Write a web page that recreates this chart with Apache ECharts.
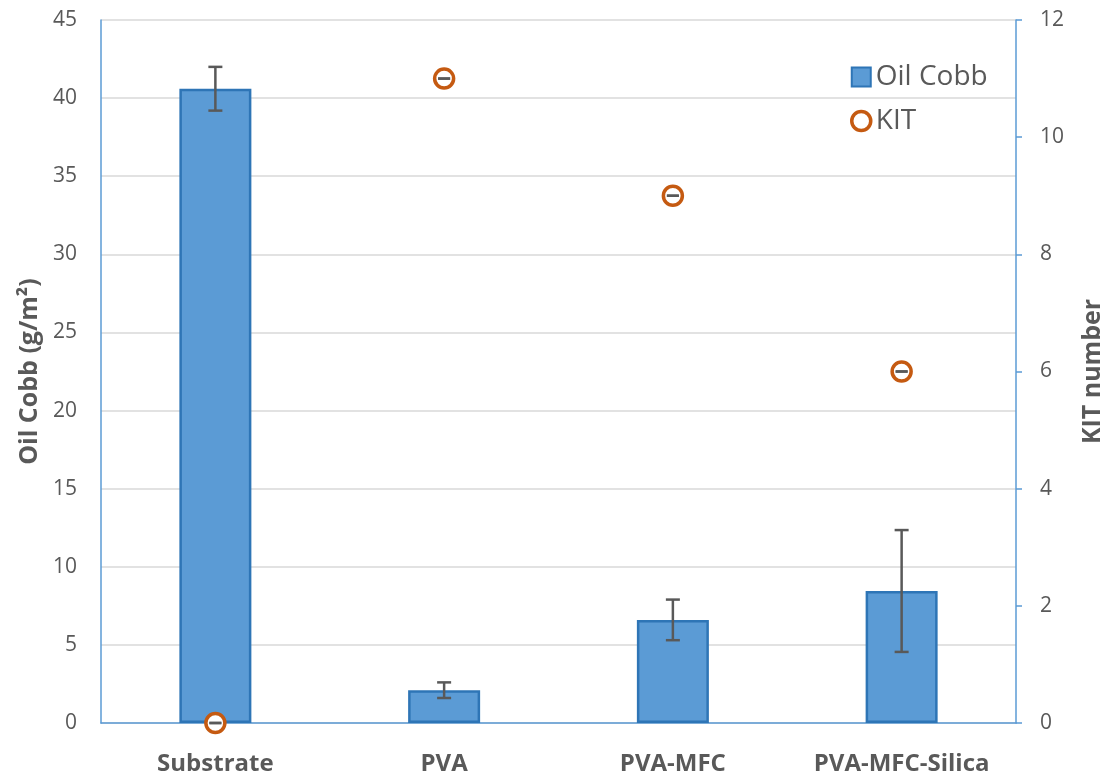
<!DOCTYPE html>
<html>
<head>
<meta charset="utf-8">
<script src="https://cdn.jsdelivr.net/npm/echarts@6/dist/echarts.min.js"></script>
<style>
  html, body { margin: 0; padding: 0; background: #fff; overflow: hidden; }
  #chart { width: 1113px; height: 780px; }
</style>
</head>
<body>
<div id="chart"></div>
<script>
// Samples and measured values
const categories = ['Substrate', 'PVA', 'PVA-MFC', 'PVA-MFC-Silica'];
const oilCobb = [40.6, 2.1, 6.6, 8.45];        // g/m²
const oilCobbErr = [1.4, 0.5, 1.3, 3.9];       // ± standard deviation
const kit = [0, 11, 9, 6];                     // KIT number
const kitErr = [0, 0, 0, 0];

const leftTicks = { min: 0, max: 45, interval: 5 };
const rightTicks = { min: 0, max: 12, interval: 2 };

const textGrey = '#595959';
const axisBlue = '#5B9BD5';
const numFont = 'Open Sans';

// Error bars drawn as a vertical stem with end caps
function errorBarItem(values, errors, capHalf) {
  return function (params, api) {
    const i = api.value(0);
    const v = values[i], e = errors[i];
    const top = api.coord([i, v + e]);
    const bot = api.coord([i, v - e]);
    const style = { stroke: '#595959', lineWidth: 2.5 };
    const children = [
      { type: 'line', shape: { x1: top[0] - capHalf, y1: top[1], x2: top[0] + capHalf, y2: top[1] }, style: style },
      { type: 'line', shape: { x1: bot[0] - capHalf, y1: bot[1], x2: bot[0] + capHalf, y2: bot[1] }, style: style }
    ];
    if (e > 0) {
      children.push({ type: 'line', shape: { x1: top[0], y1: top[1], x2: bot[0], y2: bot[1] }, style: style });
    }
    return { type: 'group', children: children };
  };
}

const chart = echarts.init(document.getElementById('chart'));
chart.setOption({
  animation: false,
  grid: { left: 101, right: 93, top: 20, bottom: 57 },
  legend: {
    orient: 'vertical',
    left: 845,
    top: 58,
    itemGap: 16,
    itemWidth: 19,
    itemHeight: 19,
    textStyle: { color: textGrey, fontSize: 28, fontFamily: numFont },
    data: [
      { name: 'Oil Cobb', icon: 'rect' },
      { name: 'KIT', icon: 'circle',
        itemStyle: { color: '#fff', borderColor: '#C55A11', borderWidth: 3.5 } }
    ]
  },
  xAxis: {
    type: 'category',
    data: categories,
    axisLine: { lineStyle: { color: axisBlue, width: 1.5 } },
    axisTick: { show: false },
    axisLabel: {
      color: textGrey, fontSize: 24, fontWeight: 'bold', fontFamily: numFont,
      margin: 29
    }
  },
  yAxis: [
    {
      type: 'value',
      min: leftTicks.min, max: leftTicks.max, interval: leftTicks.interval,
      name: 'Oil Cobb (g/m²)',
      nameLocation: 'middle',
      nameGap: 58,
      nameTextStyle: { color: textGrey, fontSize: 25, fontWeight: 'bold', fontFamily: numFont },
      axisLine: { show: true, lineStyle: { color: axisBlue, width: 1.5 } },
      axisTick: { show: false },
      axisLabel: { color: textGrey, fontSize: 21, fontFamily: numFont, margin: 24 },
      splitLine: { lineStyle: { color: '#D9D9D9', width: 1.5 } }
    },
    {
      type: 'value',
      position: 'right',
      min: rightTicks.min, max: rightTicks.max, interval: rightTicks.interval,
      name: 'KIT number',
      nameLocation: 'middle',
      nameGap: 64,
      nameRotate: 90,
      nameTextStyle: { color: textGrey, fontSize: 25, fontWeight: 'bold', fontFamily: numFont },
      axisLine: { show: true, lineStyle: { color: axisBlue, width: 1.5 } },
      axisTick: { show: true, length: 6, lineStyle: { color: axisBlue, width: 1.5 } },
      axisLabel: { color: textGrey, fontSize: 21, fontFamily: numFont, margin: 24 },
      splitLine: { show: false }
    }
  ],
  series: [
    {
      name: 'Oil Cobb',
      type: 'bar',
      yAxisIndex: 0,
      data: oilCobb,
      barWidth: 72,
      itemStyle: { color: '#5B9BD5', borderColor: '#2E75B6', borderWidth: 2.5 },
      z: 2
    },
    {
      name: 'Oil Cobb error',
      type: 'custom',
      yAxisIndex: 0,
      data: categories.map((c, i) => [i, oilCobb[i]]),
      renderItem: errorBarItem(oilCobb, oilCobbErr, 7),
      z: 3,
      silent: true
    },
    {
      name: 'KIT',
      type: 'scatter',
      yAxisIndex: 1,
      data: kit,
      symbol: 'circle',
      symbolSize: 19,
      clip: false,
      itemStyle: { color: '#fff', borderColor: '#C55A11', borderWidth: 3.5, opacity: 1 },
      z: 4
    },
    {
      name: 'KIT error',
      type: 'custom',
      yAxisIndex: 1,
      data: categories.map((c, i) => [i, kit[i]]),
      renderItem: errorBarItem(kit, kitErr, 6),
      clip: false,
      z: 5,
      silent: true
    }
  ]
});
</script>
</body>
</html>
